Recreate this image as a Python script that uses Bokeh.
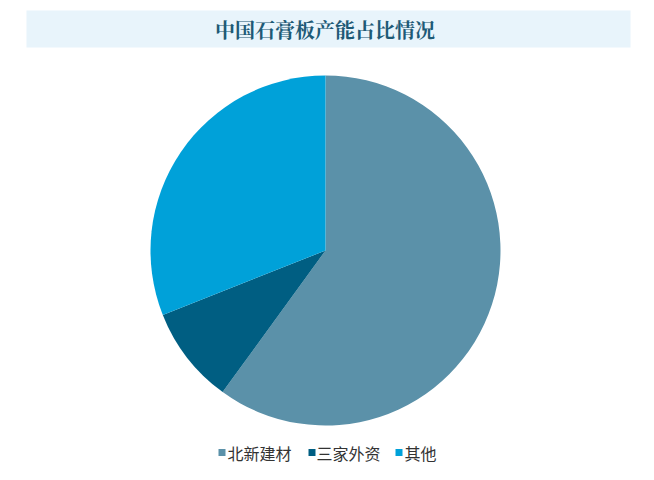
import numpy as np
from bokeh.plotting import figure
from bokeh.models import ColumnDataSource, BoxAnnotation
from bokeh.core.properties import value
from bokeh.embed import file_html
from bokeh.resources import INLINE

# ---- data ----
categories = ["北新建材", "三家外资", "其他"]
shares = [60, 9, 31]
colors = ["#5b91a9", "#005e82", "#00a1d9"]
title_text = "中国石膏板产能占比情况"

W, H = 638, 464
p = figure(width=W, height=H, x_range=(0, W), y_range=(0, H),
           output_backend="svg", toolbar_location=None, min_border=0)
p.axis.visible = False
p.grid.visible = False
p.outline_line_color = None
p.background_fill_color = "white"
p.border_fill_color = "white"

# title band
p.add_layout(BoxAnnotation(left=26, right=630, bottom=417, top=454,
                           fill_color="#e8f4fb", fill_alpha=1.0, line_color=None, level="underlay"))
p.text(x=[324.5], y=[435.5], text=[title_text], text_align="center", text_baseline="middle",
       text_font=value("Noto Serif CJK SC, Noto Sans CJK SC"), text_font_size="20px",
       text_font_style="bold", text_color="#1d5a76")

# pie
vals = np.array(shares, dtype=float)
fr = vals / vals.sum()
cum = np.concatenate([[0], np.cumsum(fr)])
start = np.pi / 2 - 2 * np.pi * cum[:-1]
end = np.pi / 2 - 2 * np.pi * cum[1:]
src = ColumnDataSource(dict(start=start, end=end, color=colors, cat=categories))
p.wedge(x=325, y=214, radius=175, start_angle="start", end_angle="end",
        direction="clock", fill_color="color", line_color=None, source=src)

# legend
sq_x = [221.5, 311.5, 398.5]
tx_x = [227, 316, 404]
ly = 12
p.rect(x=sq_x, y=[ly] * 3, width=7, height=7, fill_color=colors, line_color=None)
p.text(x=tx_x, y=[ly] * 3, text=categories, text_align="left", text_baseline="middle",
       text_font=value("Noto Sans CJK SC"), text_font_size="16px", text_color="#333333")

open("out.html", "w").write(file_html(p, INLINE))
